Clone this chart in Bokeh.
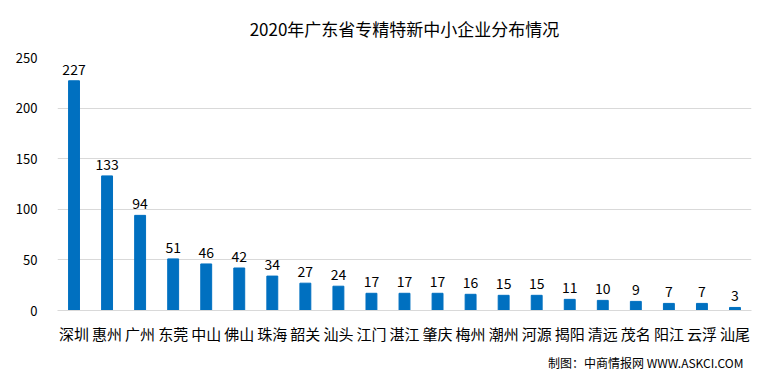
from bokeh.plotting import figure
from bokeh.models import ColumnDataSource, Title, Range1d, FixedTicker, LabelSet
from bokeh.core.properties import value
from bokeh.embed import file_html
from bokeh.resources import INLINE

cities = ["深圳", "惠州", "广州", "东莞", "中山", "佛山", "珠海", "韶关", "汕头", "江门", "湛江",
          "肇庆", "梅州", "潮州", "河源", "揭阳", "清远", "茂名", "阳江", "云浮", "汕尾"]
counts = [227, 133, 94, 51, 46, 42, 34, 27, 24, 17, 17, 17, 16, 15, 15, 11, 10, 9, 7, 7, 3]
y_ticks = [0, 50, 100, 150, 200, 250]

FONT = "Noto Sans CJK SC"
BLUE = "#0070c0"

src = ColumnDataSource(dict(city=cities, count=counts, label=[str(c) for c in counts]))

p = figure(x_range=cities, y_range=Range1d(0, 250), width=771, height=375,
           output_backend="svg", toolbar_location=None,
           title="2020年广东省专精特新中小企业分布情况",
           min_border_left=57, min_border_right=20, min_border_top=0, min_border_bottom=4,
           border_fill_color="white", outline_line_color=None)

p.title.align = "center"
p.title.vertical_align = "top"
p.title.text_font = FONT
p.title.text_font_size = "17px"
p.title.text_font_style = "normal"
p.title.text_color = "#000000"
p.title.standoff = 30
p.title.text_line_height = 0.6

p.vbar(x="city", top="count", width=0.33, color=BLUE, source=src)
p.add_layout(LabelSet(x="city", y="count", text="label", source=src, text_align="center",
                      text_baseline="bottom", y_offset=6, text_font=value(FONT),
                      text_font_size="14px", text_color="#000000"))

foot = Title(text="制图：中商情报网 WWW.ASKCI.COM", align="right", text_font=FONT,
             text_font_size="12px", text_font_style="normal", text_color="#000000", offset=8)
p.add_layout(foot, "below")

p.yaxis.ticker = FixedTicker(ticks=y_ticks)
p.yaxis.axis_line_color = None
p.yaxis.major_tick_line_color = None
p.yaxis.minor_tick_line_color = None
p.yaxis.major_label_standoff = 14
p.yaxis.major_label_text_font = FONT
p.yaxis.major_label_text_font_size = "13px"
p.yaxis.major_label_text_color = "#000000"

p.xaxis.axis_line_color = "#d9d9d9"
p.xaxis.major_tick_line_color = None
p.xaxis.major_label_standoff = 6
p.xaxis.major_label_text_font = FONT
p.xaxis.major_label_text_font_size = "15px"
p.xaxis.major_label_text_color = "#000000"

p.xgrid.grid_line_color = None
p.ygrid.grid_line_color = "#d9d9d9"

p.x_range.range_padding = 0

open("out.html", "w").write(file_html(p, INLINE))
